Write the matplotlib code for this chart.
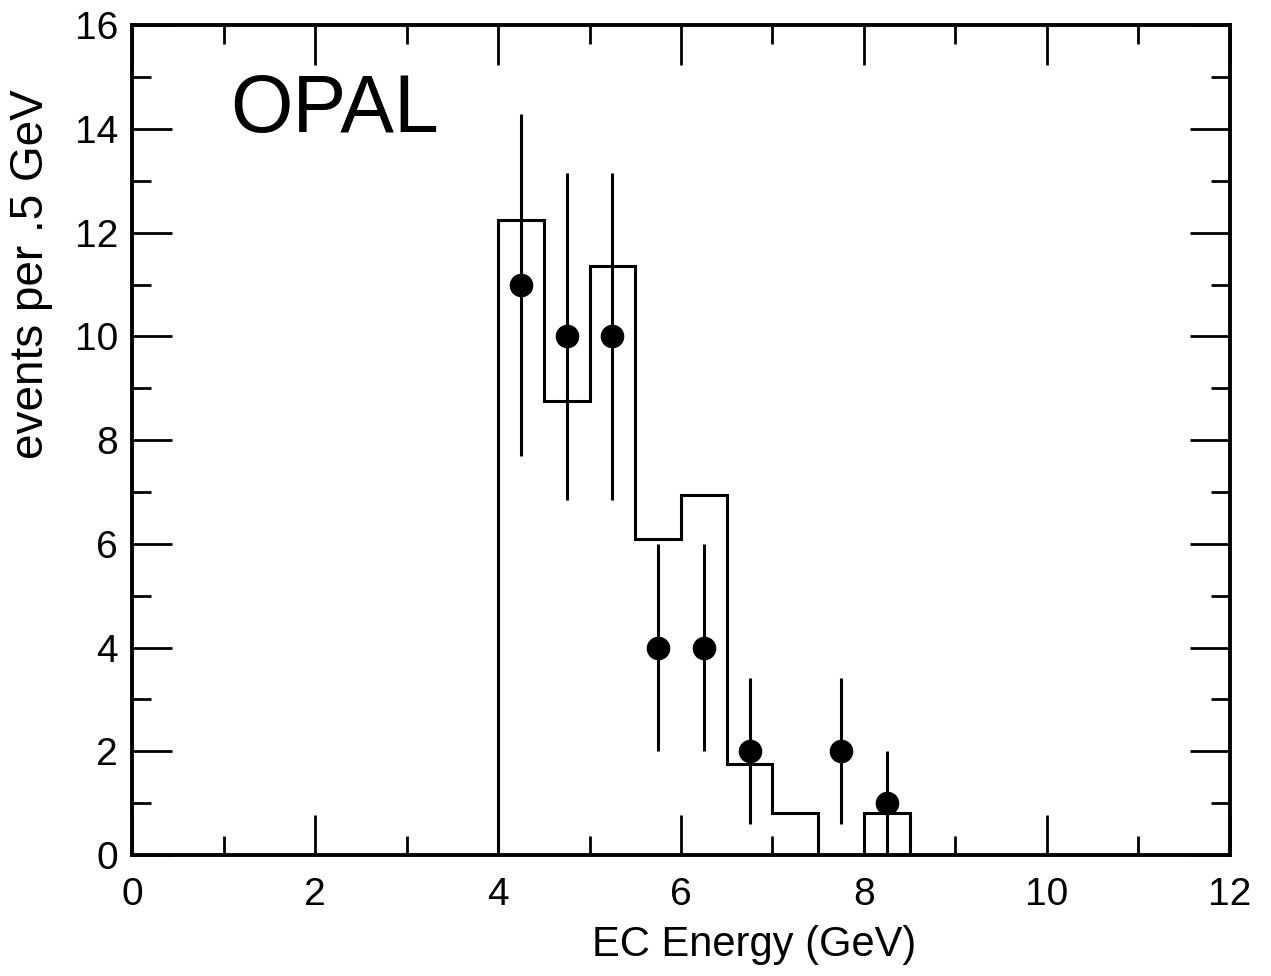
import numpy as np
import matplotlib
matplotlib.use("Agg")
from matplotlib import pyplot as plt
from matplotlib.ticker import MultipleLocator

# histogram (expectation) per 0.5 GeV bin
bin_edges = [4.0, 4.5, 5.0, 5.5, 6.0, 6.5, 7.0, 7.5, 8.0, 8.5]
hist_vals = [12.25, 8.75, 11.35, 6.1, 6.95, 1.75, 0.8, 0.0, 0.8]

# data points with errors
data_x = [4.25, 4.75, 5.25, 5.75, 6.25, 6.75, 7.75, 8.25]
data_y = [11, 10, 10, 4, 4, 2, 2, 1]
data_err = [3.3, 3.16, 3.16, 2.0, 2.0, 1.41, 1.41, 1.0]

plt.rcParams['font.family'] = ['Liberation Sans', 'DejaVu Sans']

fig = plt.figure(figsize=(12.71, 9.76), dpi=100)
ax = fig.add_axes([0.1039, 0.124, 0.8638, 0.850])

# histogram outline
ax.stairs(hist_vals, bin_edges, baseline=0, fill=False, color='black', linewidth=2.2)

# data points
ax.errorbar(data_x, data_y, yerr=data_err, fmt='o', color='black',
            markersize=16, elinewidth=2.2, capsize=0)

ax.set_xlim(0, 12)
ax.set_ylim(0, 16)
ax.xaxis.set_major_locator(MultipleLocator(2))
ax.xaxis.set_minor_locator(MultipleLocator(1))
ax.yaxis.set_major_locator(MultipleLocator(2))
ax.yaxis.set_minor_locator(MultipleLocator(1))

ax.tick_params(which='both', direction='in', top=True, right=True, width=2)
ax.tick_params(which='major', length=29)
ax.tick_params(which='minor', length=14)
ax.tick_params(axis='x', which='major', labelsize=28, pad=16)
ax.tick_params(axis='y', which='major', labelsize=28, pad=10)

for s in ax.spines.values():
    s.set_linewidth(2.8)

ax.set_xlabel('EC Energy (GeV)', fontsize=30)
ax.xaxis.set_label_coords(0.567, -0.085)
ax.set_ylabel('events per .5 GeV', fontsize=33)
ax.yaxis.set_label_coords(-0.072, 0.70)

ax.text(1.07, 13.95, 'OPAL', fontsize=58, va='baseline', ha='left')

fig.savefig('out.png', dpi=100)
